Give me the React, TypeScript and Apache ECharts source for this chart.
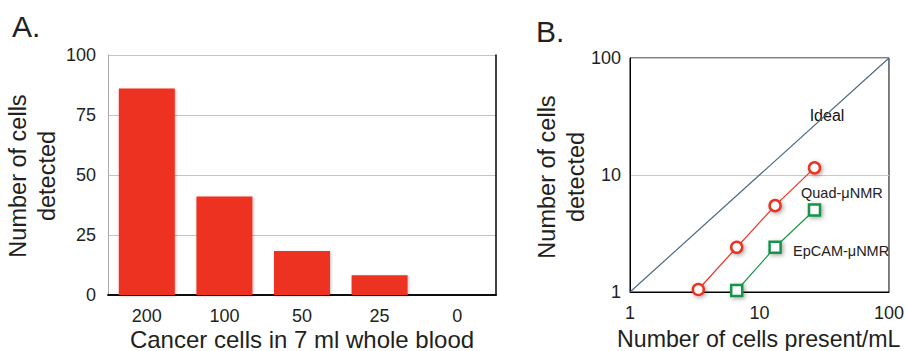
import React, { useEffect, useRef } from "react";
import * as echarts from "echarts";

const barCategories = ["200", "100", "50", "25", "0"];
const barValues = [86, 41, 18.3, 8.2, 0];
const barTicks = [0, 25, 50, 75, 100];

const idealLine = [[1, 1], [100, 100]];
const quadPoints = [[3.37, 1.05], [6.67, 2.41], [13.2, 5.47], [26.6, 11.5]];
const epcamPoints = [[6.67, 1.03], [13.2, 2.41], [26.6, 5.02]];

const FONT = "'Liberation Sans', Arial, Helvetica, sans-serif";
const TXT = "#231f20";

export default function App() {
  const ref = useRef<HTMLDivElement>(null);
  useEffect(() => {
    if (!ref.current) return;
    const chart = echarts.init(ref.current, null, { renderer: "svg" });
    const shadow = {
      shadowColor: "rgba(0,0,0,0.35)",
      shadowBlur: 4,
      shadowOffsetX: 1.5,
      shadowOffsetY: 1.5,
    };
    chart.setOption({
      animation: false,
      backgroundColor: "#fff",
      textStyle: { fontFamily: FONT },
      grid: [
        { left: 108, right: 411, top: 55, bottom: 56, show: false },
        {
          left: 630, right: 14, top: 58, bottom: 59, show: true,
          borderColor: "#000", borderWidth: 1, backgroundColor: "transparent",
        },
      ],
      xAxis: [
        {
          type: "category", gridIndex: 0, data: barCategories, position: "bottom",
          axisLine: { lineStyle: { color: "#000", width: 1.5 } },
          axisTick: { show: false },
          axisLabel: { color: TXT, fontSize: 18, margin: 12, fontFamily: FONT },
        },
        {
          type: "category", gridIndex: 0, data: barCategories, position: "top",
          axisLine: { lineStyle: { color: "#000", width: 1.5 } },
          axisTick: { show: false }, axisLabel: { show: false },
        },
        {
          type: "log", logBase: 10, gridIndex: 1, min: 1, max: 100,
          axisLine: { lineStyle: { color: "#000", width: 1 } },
          axisTick: { show: false },
          splitLine: { show: false },
          minorTick: { show: false },
          axisLabel: { color: TXT, fontSize: 18, margin: 12, fontFamily: FONT },
        },
      ],
      yAxis: [
        {
          type: "value", gridIndex: 0, min: barTicks[0], max: barTicks[barTicks.length - 1], interval: 25,
          axisLine: { show: true, lineStyle: { color: "#aaa", width: 1 } },
          axisTick: { show: false },
          splitLine: { lineStyle: { color: "#c4c4c4", width: 1.2 } },
          axisLabel: { color: TXT, fontSize: 18, margin: 12, fontFamily: FONT },
        },
        {
          type: "value", gridIndex: 0, min: 0, max: 100, interval: 25, position: "right",
          axisLine: { show: true, lineStyle: { color: "#000", width: 1.5 } },
          axisTick: { show: false }, axisLabel: { show: false }, splitLine: { show: false },
        },
        {
          type: "log", logBase: 10, gridIndex: 1, min: 1, max: 100,
          axisLine: { show: true, lineStyle: { color: "#000", width: 1 } },
          axisTick: { show: false },
          splitLine: { show: true, lineStyle: { color: "#c8c8c8", width: 1.2 } },
          axisLabel: { color: TXT, fontSize: 18, margin: 9, fontFamily: FONT },
        },
      ],
      series: [
        {
          type: "bar", xAxisIndex: 0, yAxisIndex: 0, data: barValues,
          barWidth: 56,
          itemStyle: { color: "#ee3124", shadowColor: "rgba(0,0,0,0.25)", shadowBlur: 3, shadowOffsetX: 1, shadowOffsetY: 1 },
        },
        {
          type: "line", xAxisIndex: 2, yAxisIndex: 2, data: idealLine,
          showSymbol: false, lineStyle: { color: "#4d6a84", width: 1.2 },
        },
        {
          type: "line", xAxisIndex: 2, yAxisIndex: 2, data: quadPoints,
          symbol: "circle", symbolSize: 11,
          lineStyle: { color: "#ee3124", width: 1.2 },
          itemStyle: { color: "#fff", borderColor: "#ee3124", borderWidth: 2.5, ...shadow },
        },
        {
          type: "line", xAxisIndex: 2, yAxisIndex: 2, data: epcamPoints,
          symbol: "rect", symbolSize: 11,
          lineStyle: { color: "#1a9a4a", width: 1.2 },
          itemStyle: { color: "#fff", borderColor: "#13944a", borderWidth: 2.5, ...shadow },
        },
      ],
      graphic: [
        { type: "text", x: 12, y: 26, style: { text: "A.", fontSize: 30, fill: TXT, fontFamily: FONT, textVerticalAlign: "middle" } },
        { type: "text", x: 536, y: 31, style: { text: "B.", fontSize: 30, fill: TXT, fontFamily: FONT, textVerticalAlign: "middle" } },
        {
          type: "text", x: 32, y: 176, rotation: Math.PI / 2,
          style: { text: "Number of cells\ndetected", fontSize: 23.5, lineHeight: 29, fill: TXT, fontFamily: FONT, textAlign: "center", textVerticalAlign: "middle" },
        },
        {
          type: "text", x: 561, y: 177, rotation: Math.PI / 2,
          style: { text: "Number of cells\ndetected", fontSize: 23.5, lineHeight: 29, fill: TXT, fontFamily: FONT, textAlign: "center", textVerticalAlign: "middle" },
        },
        {
          type: "text", x: 302, y: 339,
          style: { text: "Cancer cells in 7 ml whole blood", fontSize: 24, fill: TXT, fontFamily: FONT, textAlign: "center", textVerticalAlign: "middle" },
        },
        {
          type: "text", x: 617, y: 339,
          style: { text: "Number of cells present/mL", fontSize: 23.2, fill: TXT, fontFamily: FONT, textAlign: "left", textVerticalAlign: "middle" },
        },
        { type: "rect", shape: { x: 806, y: 102, width: 42, height: 26 }, style: { fill: "#fff" } },
        {
          type: "text", x: 827, y: 115,
          style: { text: "Ideal", fontSize: 16, fill: "#111", fontFamily: FONT, textAlign: "center", textVerticalAlign: "middle" },
        },
        {
          type: "text", x: 801, y: 193,
          style: { text: "Quad-μNMR", fontSize: 14.5, fill: "#222", fontFamily: FONT, textVerticalAlign: "middle" },
        },
        {
          type: "text", x: 793, y: 251,
          style: { text: "EpCAM-μNMR", fontSize: 14.5, fill: "#222", fontFamily: FONT, textVerticalAlign: "middle" },
        },
      ],
    });
    return () => chart.dispose();
  }, []);
  return <div ref={ref} style={{ width: 907, height: 351, position: "absolute", left: 0, top: 0 }} />;
}
